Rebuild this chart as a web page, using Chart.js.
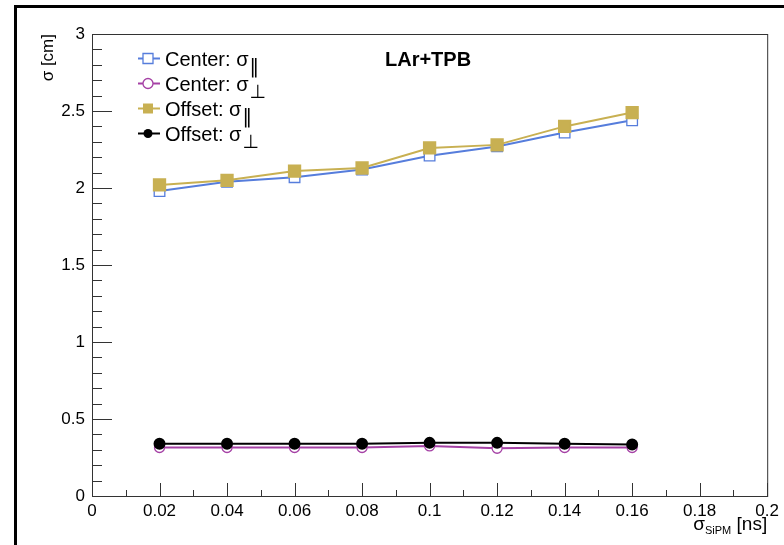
<!DOCTYPE html>
<html>
<head>
<meta charset="utf-8">
<script src="https://cdn.jsdelivr.net/npm/chart.js@4.4.1/dist/chart.umd.min.js"></script>
<style>
  html, body { margin: 0; padding: 0; background: #fff; }
  #wrap { width: 784px; height: 545px; position: relative; }
</style>
</head>
<body>
<div id="wrap"><canvas id="canvas"></canvas></div>
<script>
// SiPM time resolution (ns) and the fitted spatial resolution (cm)
var sigmaSiPM = [0.02, 0.04, 0.06, 0.08, 0.10, 0.12, 0.14, 0.16];
var centerPar = [1.98, 2.04, 2.07, 2.12, 2.21, 2.27, 2.36, 2.44];
var centerPerp = [0.315, 0.315, 0.315, 0.315, 0.325, 0.31, 0.315, 0.315];
var offsetPar = [2.02, 2.05, 2.11, 2.13, 2.26, 2.28, 2.40, 2.49];
var offsetPerp = [0.34, 0.34, 0.34, 0.34, 0.345, 0.345, 0.34, 0.335];
var xTicks = [0, 0.02, 0.04, 0.06, 0.08, 0.1, 0.12, 0.14, 0.16, 0.18, 0.2];
var yTicks = [0, 0.5, 1, 1.5, 2, 2.5, 3];

var colBlue = 'rgb(86,125,220)';
var colPurple = 'rgb(165,65,165)';
var colGold = 'rgb(200,176,82)';
var colBlack = '#000';
var FONT = '"Liberation Sans", Arial, sans-serif';

function pts(ys) {
	return ys.map(function(y, i) { return { x: sigmaSiPM[i], y: y }; });
}

var legendItems = [
	{ text: 'Center: σ', sub: '‖', color: colBlue, style: 'rect', fill: false },
	{ text: 'Center: σ', sub: '⊥', color: colPurple, style: 'circle', fill: false },
	{ text: 'Offset: σ', sub: '‖', color: colGold, style: 'rect', fill: true },
	{ text: 'Offset: σ', sub: '⊥', color: colBlack, style: 'circle', fill: true }
];

function fmt(v) { return String(Number(v.toFixed(3))); }

// ROOT style frame, inner ticks, legend and labels
var rootDecor = {
	id: 'rootDecor',
	afterDraw: function(chart) {
		var ctx = chart.ctx, a = chart.chartArea;
		var xs = chart.scales.x, ys = chart.scales.y;
		ctx.save();

		// outer pad border
		ctx.strokeStyle = '#000';
		ctx.lineWidth = 3;
		ctx.strokeRect(15.5, 6.5, 800, 560);

		// frame
		ctx.lineWidth = 1;
		ctx.strokeStyle = '#333';
		ctx.strokeRect(a.left + 0.5, a.top + 0.5, a.right - a.left, a.bottom - a.top);

		// x ticks
		ctx.beginPath();
		for (var i = 0; i <= 20; i++) {
			var px = Math.round(xs.getPixelForValue(i * 0.01)) + 0.5;
			var len = (i % 2 === 0) ? 13 : 6;
			ctx.moveTo(px, a.bottom);
			ctx.lineTo(px, a.bottom - len);
		}
		// y ticks
		for (var j = 0; j <= 30; j++) {
			var py = Math.round(ys.getPixelForValue(j * 0.1)) + 0.5;
			var l2 = (j % 5 === 0) ? 20 : 10;
			ctx.moveTo(a.left, py);
			ctx.lineTo(a.left + l2, py);
		}
		ctx.stroke();

		// title
		ctx.fillStyle = '#000';
		ctx.font = 'bold 20px ' + FONT;
		ctx.textAlign = 'left';
		ctx.textBaseline = 'alphabetic';
		ctx.fillText('LAr+TPB', 385, 66);

		// legend
		legendItems.forEach(function(it, k) {
			var cy = 58.5 + k * 25;
			ctx.strokeStyle = it.color;
			ctx.fillStyle = it.color;
			ctx.lineWidth = 2;
			ctx.beginPath();
			ctx.moveTo(138, cy);
			ctx.lineTo(160, cy);
			ctx.stroke();
			ctx.beginPath();
			if (it.style === 'rect') ctx.rect(143, cy - 5, 10, 10);
			else ctx.arc(148, cy, it.fill ? 4.5 : 5, 0, Math.PI * 2);
			if (it.fill) ctx.fill();
			else { ctx.fillStyle = '#fff'; ctx.fill(); ctx.lineWidth = 1.3; ctx.stroke(); }

			ctx.fillStyle = '#000';
			ctx.font = '20px ' + FONT;
			ctx.fillText(it.text, 165, cy + 7);
			var w = ctx.measureText(it.text).width;
			ctx.font = '19px "DejaVu Sans", ' + FONT;
			ctx.fillText(it.sub, 165 + w + 1, cy + 14);
		});

		// x axis title
		ctx.font = '19px ' + FONT;
		var tail = ' [ns]';
		var wTail = ctx.measureText(tail).width;
		ctx.font = '11px ' + FONT;
		var wSub = ctx.measureText('SiPM').width;
		ctx.font = '19px ' + FONT;
		var wSig = ctx.measureText('σ').width;
		var x0 = a.right - wTail - wSub - wSig;
		ctx.fillText('σ', x0, 530);
		ctx.font = '11px ' + FONT;
		ctx.fillText('SiPM', x0 + wSig, 534);
		ctx.font = '19px ' + FONT;
		ctx.fillText(tail, x0 + wSig + wSub, 530);

		// y axis title
		ctx.translate(53, a.top);
		ctx.rotate(-Math.PI / 2);
		ctx.textAlign = 'right';
		ctx.font = '17px ' + FONT;
		ctx.fillText('σ [cm]', 0, 0);

		ctx.restore();
	}
};

var config = {
	type: 'line',
	data: {
		datasets: [
			{
				label: 'Offset perp', data: pts(offsetPerp), order: 0,
				borderColor: colBlack, backgroundColor: colBlack,
				pointStyle: 'circle', pointRadius: 5, borderWidth: 2
			},
			{
				label: 'Center perp', data: pts(centerPerp), order: 1,
				borderColor: colPurple, backgroundColor: '#fff',
				pointStyle: 'circle', pointRadius: 5, pointBorderWidth: 1.3, borderWidth: 2
			},
			{
				label: 'Offset par', data: pts(offsetPar), order: 0,
				borderColor: colGold, backgroundColor: colGold,
				pointStyle: 'rect', pointRadius: 8, borderWidth: 2
			},
			{
				label: 'Center par', data: pts(centerPar), order: 1,
				borderColor: colBlue, backgroundColor: '#fff',
				pointStyle: 'rect', pointRadius: 7.5, pointBorderWidth: 1.3, borderWidth: 2
			}
		]
	},
	options: {
		responsive: false,
		animation: false,
		layout: { padding: { top: 34, right: 13, left: 0, bottom: 0 } },
		plugins: { legend: { display: false }, tooltip: { enabled: false } },
		elements: { line: { tension: 0 } },
		scales: {
			x: {
				type: 'linear', min: 0, max: 0.2,
				afterBuildTicks: function(s) { s.ticks = xTicks.map(function(v) { return { value: v }; }); },
				afterFit: function(s) { s.height = 49; },
				grid: { display: false, drawTicks: false },
				border: { display: false },
				ticks: {
					padding: 5, color: '#000', maxRotation: 0, autoSkip: false,
					font: { family: FONT, size: 17 },
					callback: function(v) { return fmt(v); }
				}
			},
			y: {
				type: 'linear', min: 0, max: 3,
				afterBuildTicks: function(s) { s.ticks = yTicks.map(function(v) { return { value: v }; }); },
				afterFit: function(s) { s.width = 92; },
				grid: { display: false, drawTicks: false },
				border: { display: false },
				ticks: {
					padding: 7, color: '#000',
					font: { family: FONT, size: 17 },
					callback: function(v) { return fmt(v); }
				}
			}
		}
	},
	plugins: [rootDecor]
};

window.onload = function() {
	var cv = document.getElementById('canvas');
	cv.width = 784;
	cv.height = 545;
	var ctx = cv.getContext('2d');
	window.myLine = new Chart(ctx, config);
};
</script>
</body>
</html>
